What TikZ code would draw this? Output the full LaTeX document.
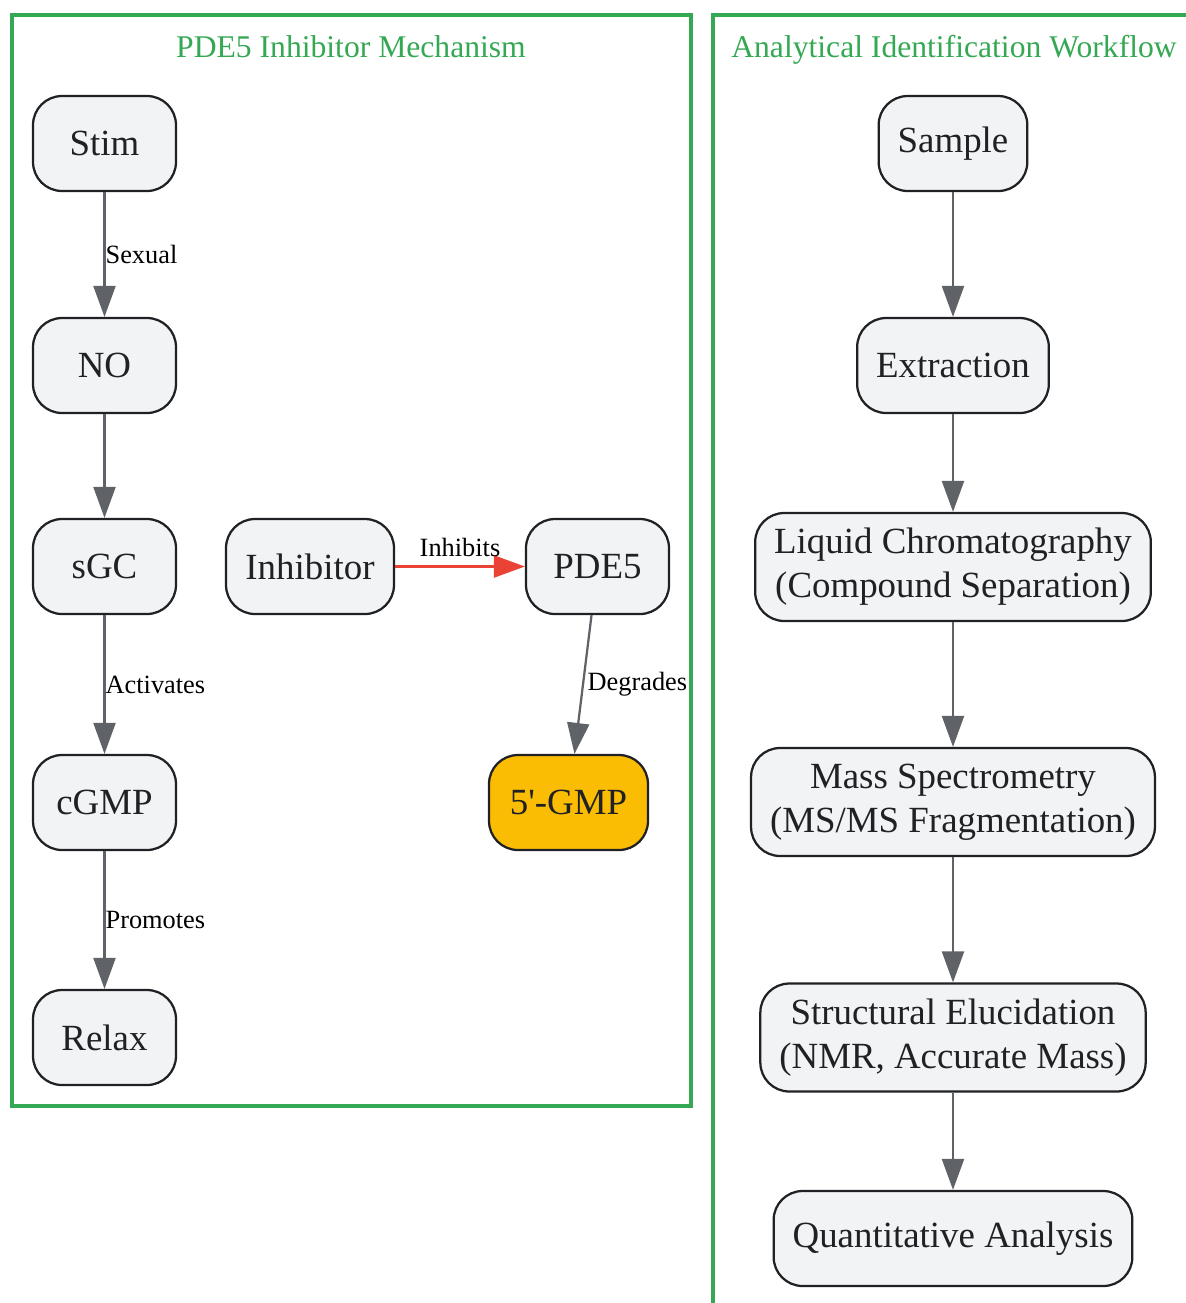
\documentclass[tikz,border=0pt]{standalone}
\usepackage{fontspec}
\setmainfont{Liberation Serif}
\usetikzlibrary{arrows.meta}
\usetikzlibrary{calc}

\definecolor{boxgreen}{HTML}{34A853}
\definecolor{nodefill}{HTML}{F1F3F4}
\definecolor{nodeline}{HTML}{202124}
\definecolor{edgegray}{HTML}{5F6368}
\definecolor{inhibred}{HTML}{EA4335}
\definecolor{gmpyellow}{HTML}{FBBC04}

\begin{document}
\begin{tikzpicture}[x=0.02cm, y=-0.02cm,
  proc/.style={draw=nodeline, line width=0.045cm, fill=nodefill, rounded corners=0.58cm,
    minimum width=2.86cm, minimum height=1.9cm, inner xsep=0.38cm, align=center,
    text=nodeline, font=\fontsize{21}{25}\selectfont},
  flow/.style={draw=edgegray, line width=0.045cm, -{Triangle[length=0.62cm, width=0.44cm]}},
  lbl/.style={font=\fontsize{15}{18}\selectfont, text=black, inner sep=0},
  title/.style={text=boxgreen, font=\fontsize{18}{22}\selectfont, anchor=base}]

\useasboundingbox (0,0) rectangle (1186,1303);

% clusters
\draw[boxgreen, line width=0.08cm] (12,15) rectangle (691,1106);
\draw[boxgreen, line width=0.08cm] (1186,15) -- (713,15) -- (713,1303);
\node[title] (t1) at (351,57) {PDE5 Inhibitor Mechanism};
\node[title] (t2) at (954,57) {Analytical Identification Workflow};

% mechanism
\node[proc] (stim) at (104.5,143.5) {Stim};
\node[proc] (no) at (104.5,365.5) {NO};
\node[proc] (sgc) at (104.5,566.5) {sGC};
\node[proc] (cgmp) at (104.5,802.5) {cGMP};
\node[proc] (relax) at (104.5,1037.5) {Relax};
\node[proc, minimum width=3.36cm] (inhib) at (310,566.5) {Inhibitor};
\node[proc] (pde) at (597.5,566.5) {PDE5};
\node[proc, fill=gmpyellow, minimum width=3.18cm] (gmp) at (568.5,802.5) {5\textquotesingle-GMP};

\draw[flow] (stim) -- (no) node[lbl, midway, anchor=west] {Sexual};
\draw[flow] (no) -- (sgc);
\draw[flow] (sgc) -- (cgmp) node[lbl, midway, anchor=west] {Activates};
\draw[flow] (cgmp) -- (relax) node[lbl, midway, anchor=west] {Promotes};
\draw[flow, draw=inhibred] (inhib) -- (pde) node[lbl, midway, above, inner sep=5pt] {Inhibits};
\draw[flow] (pde) -- (gmp) node[lbl, midway, anchor=west, inner xsep=2pt] {Degrades};

% workflow
\node[proc] (sample) at (953,143.5) {Sample};
\node[proc] (extr) at (953,365.5) {Extraction};
\node[proc, minimum height=2.16cm] (lc) at (953,567) {Liquid Chromatography\\(Compound Separation)};
\node[proc, minimum height=2.16cm] (ms) at (953,802) {Mass Spectrometry\\(MS/MS Fragmentation)};
\node[proc, minimum height=2.16cm] (struct) at (953,1037.5) {Structural Elucidation\\(NMR, Accurate Mass)};
\node[proc] (quant) at (953,1238.5) {Quantitative Analysis};

\draw[flow] (sample) -- (extr);
\draw[flow] (extr) -- (lc);
\draw[flow] (lc) -- (ms);
\draw[flow] (ms) -- (struct);
\draw[flow] (struct) -- (quant);

\end{tikzpicture}
\end{document}
